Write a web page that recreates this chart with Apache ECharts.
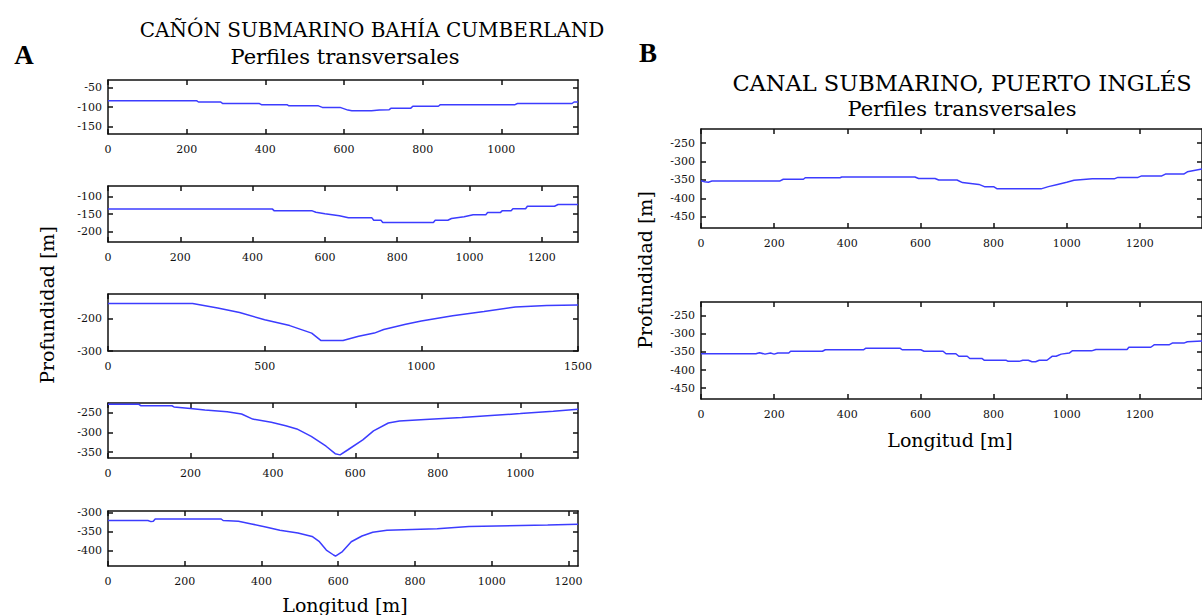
<!DOCTYPE html>
<html><head><meta charset="utf-8">
<script src="https://cdn.jsdelivr.net/npm/echarts@6/dist/echarts.min.js"></script>
<style>html,body{margin:0;padding:0;background:#fff}#c{width:1202px;height:615px}</style>
</head><body><div id="c"></div>
<script>
// ---- DATA ----
const profileA1 = [[0,-84],[226,-84],[230,-87],[286,-87],[292,-91],[385,-91],[390,-94],[455,-94],[460,-97],[535,-97],[545,-101],[590,-101],[610,-108],[620,-110],[670,-110],[690,-108],[715,-107],[720,-103],[770,-103],[775,-98],[840,-98],[845,-94],[1035,-94],[1041,-91],[1180,-91],[1185,-87],[1195,-87]];
const profileA2 = [[0,-136],[455,-136],[460,-141],[565,-141],[575,-145],[600,-149],[640,-155],[665,-161],[730,-161],[735,-168],[755,-168],[760,-174],[900,-174],[905,-168],[940,-168],[950,-163],[985,-158],[1010,-152],[1045,-152],[1050,-146],[1085,-146],[1090,-141],[1115,-141],[1120,-135],[1155,-135],[1160,-128],[1235,-128],[1245,-123],[1300,-123]];
const profileA3 = [[0,-154],[270,-154],[350,-168],[420,-182],[500,-204],[580,-222],[650,-245],[680,-268],[750,-268],[800,-255],[850,-245],[880,-234],[950,-218],[1000,-208],[1100,-192],[1200,-179],[1300,-165],[1400,-160],[1500,-159]];
const profileA4 = [[0,-228],[74,-228],[80,-232],[155,-232],[160,-235],[200,-239],[235,-243],[289,-247],[324,-253],[351,-266],[396,-274],[431,-283],[458,-291],[493,-310],[529,-335],[551,-354],[563,-357],[582,-344],[618,-319],[644,-296],[680,-276],[707,-271],[769,-267],[858,-262],[929,-257],[1000,-252],[1080,-246],[1140,-241]];
const profileA5 = [[0,-320],[104,-320],[112,-323],[118,-322],[123,-316],[295,-316],[300,-320],[340,-322],[374,-329],[411,-337],[448,-346],[495,-353],[532,-362],[551,-376],[569,-398],[588,-411],[593,-414],[611,-402],[634,-376],[662,-361],[690,-351],[727,-346],[858,-342],[941,-336],[1146,-332],[1225,-330]];
const profileB1 = [[0,-352],[10,-355],[20,-356],[30,-353],[215,-353],[225,-348],[280,-348],[285,-344],[380,-344],[385,-342],[585,-342],[595,-346],[640,-346],[650,-350],[700,-350],[715,-357],[760,-362],[775,-368],[800,-368],[810,-374],[930,-374],[950,-368],[975,-362],[1000,-356],[1020,-351],[1070,-347],[1130,-347],[1140,-343],[1195,-343],[1205,-339],[1260,-339],[1270,-334],[1320,-334],[1330,-328],[1370,-320]];
const profileB2 = [[0,-355],[150,-355],[160,-352],[175,-356],[190,-353],[200,-356],[210,-353],[240,-353],[245,-348],[332,-348],[340,-344],[444,-344],[450,-340],[545,-340],[550,-344],[601,-344],[610,-348],[662,-348],[670,-355],[697,-355],[705,-362],[728,-362],[735,-368],[768,-368],[775,-373],[835,-373],[840,-376],[870,-376],[880,-373],[895,-373],[905,-377],[915,-377],[925,-373],[946,-373],[960,-362],[971,-362],[985,-356],[1007,-353],[1015,-347],[1068,-347],[1080,-343],[1165,-343],[1170,-337],[1230,-337],[1240,-330],[1281,-330],[1290,-325],[1322,-325],[1330,-322],[1370,-320]];

const xTicksA1 = [0,200,400,600,800,1000];
const xTicksA2 = [0,200,400,600,800,1000,1200];
const xTicksA3 = [0,500,1000,1500];
const xTicksA4 = [0,200,400,600,800,1000];
const xTicksA5 = [0,200,400,600,800,1000,1200];
const xTicksB  = [0,200,400,600,800,1000,1200];
const yTicksA1 = [-150,-100,-50];
const yTicksA2 = [-200,-150,-100];
const yTicksA3 = [-300,-200];
const yTicksA4 = [-350,-300,-250];
const yTicksA5 = [-400,-350,-300];
const yTicksB  = [-450,-400,-350,-300,-250];

// axis extents [xMax, yMin, yMax]
const extentA1 = [1195,-170,-30];
const extentA2 = [1300,-230,-70];
const extentA3 = [1500,-300,-125];
const extentA4 = [1140,-365,-225];
const extentA5 = [1225,-440,-295];
const extentB  = [1370,-480,-212];

const titleA = 'CAÑÓN SUBMARINO BAHÍA CUMBERLAND';
const titleB = 'CANAL SUBMARINO, PUERTO INGLÉS';
const subtitle = 'Perfiles transversales';
const yName = 'Profundidad [m]';
const xName = 'Longitud [m]';

// ---- CHART ----
const chart = echarts.init(document.getElementById('c'), null, {renderer:'svg'});
const LINE = '#3c3cff';
const AX = {color:'#111', width:1.5};
const TICKFONT = {fontFamily:'DejaVu Serif', fontSize:11, color:'#111', formatter:function(v){return String(v);}};
const option = {animation:false, backgroundColor:'#fff', grid:[], xAxis:[], yAxis:[], series:[], graphic:[]};

function addPanel(box, data, ext, xt, yt){
  const g = option.grid.length;
  option.grid.push({left:box[0], top:box[1], width:box[2], height:box[3], containLabel:false});
  const base = {gridIndex:g, type:'value', splitLine:{show:false}};
  option.xAxis.push(Object.assign({}, base, {min:0, max:ext[0], position:'bottom',
    axisLine:{show:true, onZero:false, lineStyle:AX},
    axisTick:{show:true, inside:true, length:5, customValues:xt, lineStyle:AX},
    axisLabel:Object.assign({show:true, margin:10, customValues:xt, showMinLabel:true, showMaxLabel:true}, TICKFONT)}));
  option.xAxis.push(Object.assign({}, base, {min:0, max:ext[0], position:'top',
    axisLine:{show:true, onZero:false, lineStyle:AX},
    axisTick:{show:true, inside:true, length:5, customValues:xt, lineStyle:AX},
    axisLabel:{show:false}}));
  option.yAxis.push(Object.assign({}, base, {min:ext[1], max:ext[2], position:'left',
    axisLine:{show:true, onZero:false, lineStyle:AX},
    axisTick:{show:true, inside:true, length:5, customValues:yt, lineStyle:AX},
    axisLabel:Object.assign({show:true, margin:6, customValues:yt, showMinLabel:true, showMaxLabel:true}, TICKFONT)}));
  option.yAxis.push(Object.assign({}, base, {min:ext[1], max:ext[2], position:'right',
    axisLine:{show:true, onZero:false, lineStyle:AX},
    axisTick:{show:true, inside:true, length:5, customValues:yt, lineStyle:AX},
    axisLabel:{show:false}}));
  option.series.push({type:'line', xAxisIndex:2*g, yAxisIndex:2*g, data:data,
    showSymbol:false, symbol:'none', clip:true, lineStyle:{color:LINE, width:1.5}});
}

addPanel([108,80,470,54], profileA1, extentA1, xTicksA1, yTicksA1);
addPanel([108,186,470,56], profileA2, extentA2, xTicksA2, yTicksA2);
addPanel([108,294,470,57], profileA3, extentA3, xTicksA3, yTicksA3);
addPanel([108,403,470,55], profileA4, extentA4, xTicksA4, yTicksA4);
addPanel([108,511,470,55], profileA5, extentA5, xTicksA5, yTicksA5);
addPanel([701,129,502,99], profileB1, extentB, xTicksB, yTicksB);
addPanel([701,302,502,97], profileB2, extentB, xTicksB, yTicksB);

function txt(s, x, y, font, rot){
  option.graphic.push({type:'text', x:x, y:y, rotation:rot||0,
    style:{text:s, font:font, fill:'#000', align:'center', verticalAlign:'middle'}});
}
txt(titleA, 372, 30, '20px "DejaVu Serif"');
txt(subtitle, 345, 57, '21px "DejaVu Serif"');
txt('A', 24, 55, 'bold 27px "Liberation Serif"');
txt('B', 648, 53, 'bold 27px "Liberation Serif"');
txt(titleB, 962, 83, '22.5px "DejaVu Serif"');
txt(subtitle, 962, 109, '21px "DejaVu Serif"');
txt(yName, 47, 305, '19px "DejaVu Serif"', Math.PI/2);
txt(xName, 345, 605, '19px "DejaVu Serif"');
txt(yName, 645, 270, '19px "DejaVu Serif"', Math.PI/2);
txt(xName, 950, 440, '19px "DejaVu Serif"');

chart.setOption(option);
</script></body></html>
